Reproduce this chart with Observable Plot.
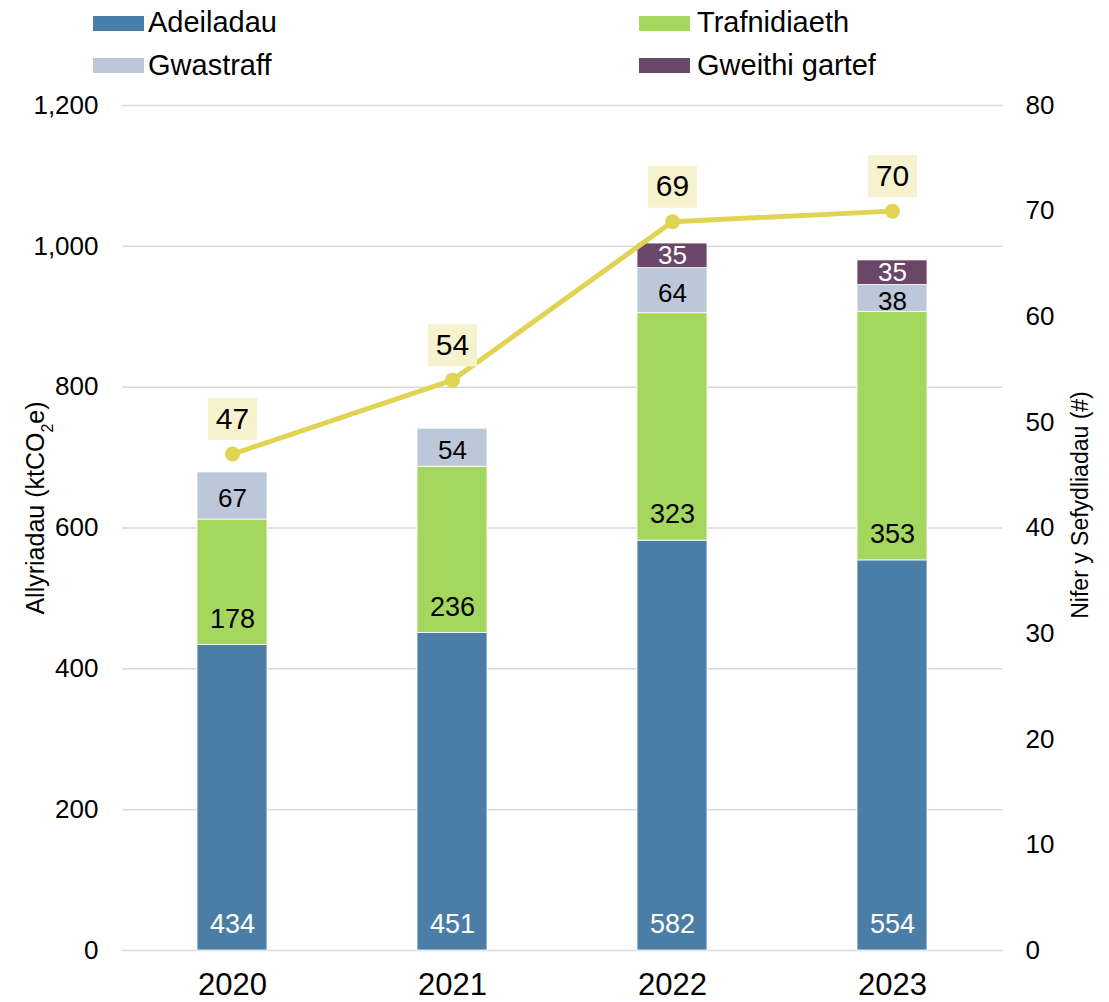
<!DOCTYPE html>
<html><head><meta charset="utf-8">
<script src="https://cdn.jsdelivr.net/npm/d3@7"></script>
<script src="https://cdn.jsdelivr.net/npm/@observablehq/plot@0.6"></script>
<style>
body{margin:0;background:#fff;font-family:"Liberation Sans",Arial,sans-serif;color:#000;}
#legend{position:relative;width:1109px;height:90px;}
.sw{position:absolute;width:51px;height:15px;}
.lt{position:absolute;font-size:29px;line-height:29px;white-space:nowrap;}
#chart svg{display:block;}
</style></head><body>
<div id="legend"></div>
<div id="chart"></div>
<script>
const years = ["2020", "2021", "2022", "2023"];
const series = ["Adeiladau", "Trafnidiaeth", "Gwastraff", "Gweithi gartef"];
const colors = ["#4A7EA7", "#A5D65D", "#BCC8DA", "#6A4767"];
const adeiladau = [434, 451, 582, 554];
const trafnidiaeth = [178, 236, 323, 353];
const gwastraff = [67, 54, 64, 38];
const gweithiGartef = [null, null, 35, 35];
const sefydliadau = [47, 54, 69, 70];
const leftTicks = [0, 200, 400, 600, 800, 1000, 1200];
const rightTicks = [0, 10, 20, 30, 40, 50, 60, 70, 80];
const leftMax = 1200, rightMax = 80;
const ratio = leftMax / rightMax;

const seriesValues = [adeiladau, trafnidiaeth, gwastraff, gweithiGartef];
const rows = [];
series.forEach((s, i) => years.forEach((y, j) => {
  const v = seriesValues[i][j];
  if (v != null) rows.push({year: y, series: s, value: v});
}));
const lineData = years.map((y, j) => ({year: y, n: sefydliadau[j]}));

// legend
const legend = document.getElementById("legend");
const legendPos = [[93, 16, 148, 8], [639, 16, 697, 8], [93, 58, 148, 51], [639, 58, 697, 51]];
series.forEach((s, i) => {
  const [sx, sy, tx, ty] = legendPos[i];
  const sw = document.createElement("div");
  sw.className = "sw"; sw.style.left = sx + "px"; sw.style.top = sy + "px"; sw.style.background = colors[i];
  const t = document.createElement("div");
  t.className = "lt"; t.style.left = tx + "px"; t.style.top = ty + "px"; t.textContent = s;
  legend.appendChild(sw); legend.appendChild(t);
});

const boxSymbol = {draw(ctx) { ctx.rect(-24.5, -21, 49, 42); ctx.closePath(); }};
const stackOpts = {x: "year", y: "value", z: "series", order: series};

const chart = Plot.plot({
  width: 1109,
  height: 912,
  marginTop: 15,
  marginBottom: 52,
  marginLeft: 122,
  marginRight: 107,
  style: {fontFamily: "Liberation Sans, Arial, sans-serif", color: "#000", background: "#fff"},
  x: {domain: years, paddingInner: 0.68, paddingOuter: 0.34, label: null},
  y: {domain: [0, leftMax], label: null},
  color: {domain: series, range: colors},
  marks: [
    Plot.gridY({ticks: leftTicks, stroke: "#D9D9D9", strokeOpacity: 1, strokeWidth: 1.5}),
    Plot.barY(rows, Plot.stackY({...stackOpts, fill: "series", stroke: "white", strokeWidth: 0.8})),
    Plot.text(rows, Plot.stackY1({...stackOpts, text: d => d.series === "Adeiladau" ? d.value : null, fill: "white", fontSize: 27, dy: -26})),
    Plot.text(rows, Plot.stackY1({...stackOpts, text: d => d.series === "Trafnidiaeth" ? d.value : null, fill: "black", fontSize: 27, dy: -26})),
    Plot.text(rows, Plot.stackY({...stackOpts, text: d => d.series === "Gwastraff" ? d.value : null, fill: "black", fontSize: 26, dy: 3})),
    Plot.text(rows, Plot.stackY({...stackOpts, text: d => d.series === "Gweithi gartef" ? d.value : null, fill: "white", fontSize: 26, dy: 0})),
    Plot.line(lineData, {x: "year", y: d => d.n * ratio, stroke: "#E0D452", strokeWidth: 5}),
    Plot.dot(lineData, {x: "year", y: d => d.n * ratio, r: 7.5, fill: "#E0D452", stroke: null}),
    Plot.dot(lineData, {x: "year", y: d => d.n * ratio, symbol: boxSymbol, fill: "#F6F2CE", stroke: null, dy: -35}),
    Plot.text(lineData, {x: "year", y: d => d.n * ratio, text: d => String(d.n), fill: "black", fontSize: 30, dy: -35}),
    Plot.axisY({ticks: leftTicks, tickSize: 0, tickPadding: 24, fontSize: 26, tickFormat: d3.format(","), label: null}),
    Plot.axisY({anchor: "right", ticks: rightTicks.map(v => v * ratio), tickFormat: d => String(d / ratio), tickSize: 0, tickPadding: 23, fontSize: 26, label: null}),
    Plot.axisX({tickSize: 0, tickPadding: 22, fontSize: 31, label: null}),
    Plot.text(["Allyriadau (ktCO2e)"], {frameAnchor: "left", dx: -87, dy: -20, rotate: -90, fontSize: 25, fill: "black", textAnchor: "middle", className: "ltitle"}),
    Plot.text(["Nifer y Sefydliadau (#)"], {frameAnchor: "right", dx: 78, dy: -23, rotate: -90, fontSize: 23, fill: "black", textAnchor: "middle"})
  ]
});
document.getElementById("chart").appendChild(chart);
// subscript in the left axis title
chart.querySelectorAll("g.ltitle text").forEach(t => {
  if (t.textContent === "Allyriadau (ktCO2e)") {
    t.textContent = "";
    const ns = "http://www.w3.org/2000/svg";
    const a = document.createElementNS(ns, "tspan"); a.textContent = "Allyriadau (ktCO";
    const b = document.createElementNS(ns, "tspan"); b.textContent = "2"; b.setAttribute("font-size", "16"); b.setAttribute("baseline-shift", "sub");
    const c = document.createElementNS(ns, "tspan"); c.textContent = "e)";
    t.append(a, b, c);
  }
});
</script>
</body></html>
